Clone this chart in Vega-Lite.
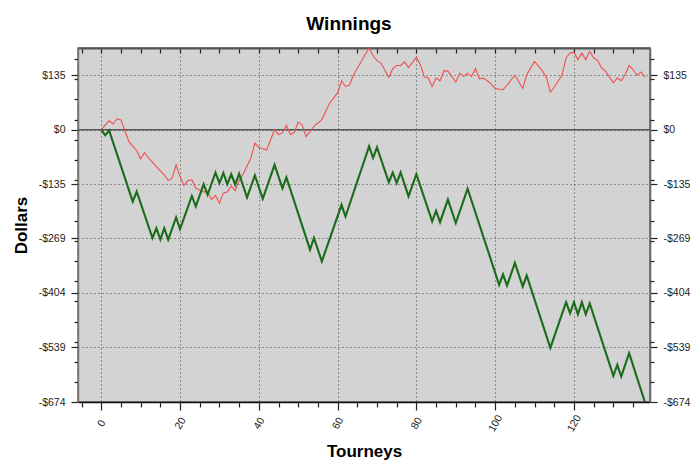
{
  "$schema": "https://vega.github.io/schema/vega-lite/v6.json",
  "width": 572,
  "height": 354,
  "autosize": "none",
  "padding": {"left": 78, "top": 48, "right": 50, "bottom": 72},
  "background": "white",
  "title": {"text": "Winnings", "fontSize": 19, "font": "Liberation Sans", "fontWeight": "bold", "color": "black", "offset": 13, "dx": -15},
  "config": {
    "view": {"fill": "#d3d3d3", "stroke": "#666", "strokeWidth": 1.5},
    "axis": {"labelFont": "Liberation Sans", "labelFontSize": 10.5, "labelColor": "#222", "titleFont": "Liberation Sans", "titleFontSize": 17, "titleFontWeight": "bold", "titleColor": "black", "tickColor": "#222", "tickWidth": 1.2, "domainColor": "#555"}
  },
  "datasets": {
    "green": [{"x":0,"y":0},{"x":1,"y":-14},{"x":2,"y":-2},{"x":8,"y":-178},{"x":9,"y":-153},{"x":13,"y":-268},{"x":14,"y":-244},{"x":15,"y":-272},{"x":16,"y":-244},{"x":17,"y":-272},{"x":19,"y":-217},{"x":20,"y":-246},{"x":23,"y":-164},{"x":24,"y":-190},{"x":26,"y":-135},{"x":27,"y":-161},{"x":29,"y":-106},{"x":30,"y":-132},{"x":31,"y":-107},{"x":32,"y":-135},{"x":33,"y":-110},{"x":34,"y":-136},{"x":35,"y":-109},{"x":37,"y":-168},{"x":39,"y":-113},{"x":41,"y":-171},{"x":44,"y":-87},{"x":46,"y":-145},{"x":47,"y":-118},{"x":53,"y":-297},{"x":54,"y":-268},{"x":56,"y":-326},{"x":61,"y":-186},{"x":62,"y":-215},{"x":68,"y":-41},{"x":69,"y":-70},{"x":70,"y":-44},{"x":73,"y":-130},{"x":74,"y":-106},{"x":75,"y":-132},{"x":76,"y":-106},{"x":78,"y":-165},{"x":80,"y":-110},{"x":84,"y":-227},{"x":85,"y":-201},{"x":86,"y":-229},{"x":88,"y":-173},{"x":90,"y":-231},{"x":93,"y":-146},{"x":101,"y":-384},{"x":102,"y":-358},{"x":103,"y":-386},{"x":105,"y":-330},{"x":107,"y":-388},{"x":108,"y":-361},{"x":114,"y":-540},{"x":118,"y":-427},{"x":119,"y":-454},{"x":120,"y":-427},{"x":121,"y":-457},{"x":122,"y":-427},{"x":123,"y":-457},{"x":124,"y":-430},{"x":130,"y":-609},{"x":131,"y":-582},{"x":132,"y":-611},{"x":134,"y":-553},{"x":138,"y":-674}],
    "red": [{"x":0,"y":0},{"x":2,"y":22},{"x":3,"y":14},{"x":4,"y":27},{"x":5,"y":24},{"x":7,"y":-29},{"x":9,"y":-52},{"x":10,"y":-72},{"x":11,"y":-57},{"x":12,"y":-70},{"x":13,"y":-80},{"x":15,"y":-102},{"x":16,"y":-112},{"x":17,"y":-126},{"x":18,"y":-120},{"x":19,"y":-87},{"x":20,"y":-116},{"x":21,"y":-138},{"x":22,"y":-126},{"x":23,"y":-124},{"x":24,"y":-145},{"x":26,"y":-154},{"x":27,"y":-154},{"x":28,"y":-173},{"x":29,"y":-163},{"x":30,"y":-182},{"x":31,"y":-157},{"x":32,"y":-154},{"x":33,"y":-140},{"x":34,"y":-151},{"x":35,"y":-126},{"x":36,"y":-110},{"x":38,"y":-70},{"x":39,"y":-33},{"x":40,"y":-44},{"x":42,"y":-50},{"x":44,"y":0},{"x":45,"y":-12},{"x":46,"y":-8},{"x":47,"y":11},{"x":48,"y":-12},{"x":49,"y":-7},{"x":50,"y":19},{"x":51,"y":12},{"x":52,"y":-17},{"x":54,"y":8},{"x":56,"y":25},{"x":58,"y":66},{"x":60,"y":91},{"x":61,"y":121},{"x":62,"y":107},{"x":63,"y":110},{"x":64,"y":135},{"x":66,"y":169},{"x":67,"y":186},{"x":68,"y":202},{"x":69,"y":183},{"x":70,"y":171},{"x":71,"y":165},{"x":73,"y":130},{"x":74,"y":151},{"x":75,"y":159},{"x":76,"y":159},{"x":77,"y":168},{"x":78,"y":154},{"x":80,"y":179},{"x":81,"y":161},{"x":82,"y":131},{"x":83,"y":128},{"x":84,"y":107},{"x":85,"y":128},{"x":86,"y":121},{"x":87,"y":146},{"x":88,"y":145},{"x":90,"y":118},{"x":91,"y":140},{"x":92,"y":132},{"x":93,"y":140},{"x":94,"y":132},{"x":95,"y":151},{"x":96,"y":126},{"x":97,"y":128},{"x":98,"y":121},{"x":99,"y":113},{"x":100,"y":102},{"x":102,"y":99},{"x":103,"y":110},{"x":105,"y":135},{"x":107,"y":102},{"x":108,"y":136},{"x":110,"y":169},{"x":112,"y":145},{"x":113,"y":130},{"x":114,"y":93},{"x":115,"y":105},{"x":117,"y":136},{"x":118,"y":178},{"x":119,"y":190},{"x":120,"y":192},{"x":121,"y":173},{"x":122,"y":190},{"x":123,"y":173},{"x":124,"y":194},{"x":125,"y":178},{"x":126,"y":171},{"x":127,"y":153},{"x":128,"y":145},{"x":130,"y":116},{"x":131,"y":128},{"x":132,"y":121},{"x":133,"y":136},{"x":134,"y":159},{"x":135,"y":149},{"x":136,"y":135},{"x":137,"y":143},{"x":138,"y":130}],
    "zero": [{"y": 0}]
  },
  "resolve": {"axis": {"x": "independent", "y": "independent"}},
  "layer": [
    {
      "data": {"name": "zero"},
      "mark": {"type": "rule", "color": "#555", "strokeWidth": 1.5},
      "encoding": {
        "y": {"field": "y", "type": "quantitative",
          "scale": {"domain": [-674, 202.2], "nice": false, "zero": false},
          "axis": {"orient": "left", "values": [175,125,75,25,-25,-75,-125,-175,-225,-275,-325,-375,-425,-475,-525,-575,-625], "labels": false, "grid": false, "domain": false, "tickSize": 4, "title": null}}
      }
    },
    {
      "data": {"name": "red"},
      "mark": {"type": "line", "color": "#f05050", "strokeWidth": 1.1, "clip": true},
      "encoding": {
        "x": {"field": "x", "type": "quantitative",
          "scale": {"domain": [-5.9, 139.3], "nice": false, "zero": false},
          "axis": {"orient": "top", "values": [-5,0,5,10,15,20,25,30,35,40,45,50,55,60,65,70,75,80,85,90,95,100,105,110,115,120,125,130,135], "labels": false, "grid": false, "tickSize": -5, "domainColor": "#555", "domainWidth": 2, "title": null}},
        "y": {"field": "y", "type": "quantitative",
          "scale": {"domain": [-674, 202.2], "nice": false, "zero": false},
          "axis": {"orient": "right", "values": [135,0,-135,-269,-404,-539,-674], "labelExpr": "(datum.value < 0 ? '-' : '') + '$' + abs(datum.value)", "grid": false, "tickSize": 7, "labelPadding": 6, "domainColor": "#666", "domainWidth": 1.5, "title": null}}
      }
    },
    {
      "data": {"name": "green"},
      "mark": {"type": "line", "color": "#1a6b1a", "strokeWidth": 2.1, "clip": true},
      "encoding": {
        "x": {"field": "x", "type": "quantitative",
          "scale": {"domain": [-5.9, 139.3], "nice": false, "zero": false},
          "axis": {"orient": "bottom", "values": [0,20,40,60,80,100,120], "labelAngle": -60, "labelAlign": "center", "labelBaseline": "middle", "labelPadding": 13, "tickSize": 8, "grid": true, "gridDash": [1,3], "gridColor": "#333", "gridOpacity": 0.9, "domainColor": "#111", "domainWidth": 1.5, "title": "Tourneys", "titlePadding": 10}},
        "y": {"field": "y", "type": "quantitative",
          "scale": {"domain": [-674, 202.2], "nice": false, "zero": false},
          "axis": {"orient": "left", "values": [135,0,-135,-269,-404,-539,-674], "labelExpr": "(datum.value < 0 ? '-' : '') + '$' + abs(datum.value)", "grid": true, "gridDash": [1,3], "gridColor": "#333", "gridOpacity": 0.9, "tickSize": 7, "labelPadding": 6, "domainColor": "#777", "domainWidth": 1.5, "title": "Dollars", "titlePadding": 8}}
      }
    },
    {
      "data": {"name": "green"},
      "mark": {"type": "point", "opacity": 0},
      "encoding": {
        "x": {"field": "x", "type": "quantitative",
          "scale": {"domain": [-5.9, 139.3], "nice": false, "zero": false},
          "axis": {"orient": "bottom", "values": [-5,5,10,15,25,30,35,45,50,55,65,70,75,85,90,95,105,110,115,125,130,135], "labels": false, "grid": false, "domain": false, "tickSize": 5, "title": null}},
        "y": {"field": "y", "type": "quantitative",
          "scale": {"domain": [-674, 202.2], "nice": false, "zero": false},
          "axis": {"orient": "right", "values": [175,125,75,25,-25,-75,-125,-175,-225,-275,-325,-375,-425,-475,-525,-575,-625], "labels": false, "grid": false, "domain": false, "tickSize": 4, "title": null}}
      }
    }
  ]
}
